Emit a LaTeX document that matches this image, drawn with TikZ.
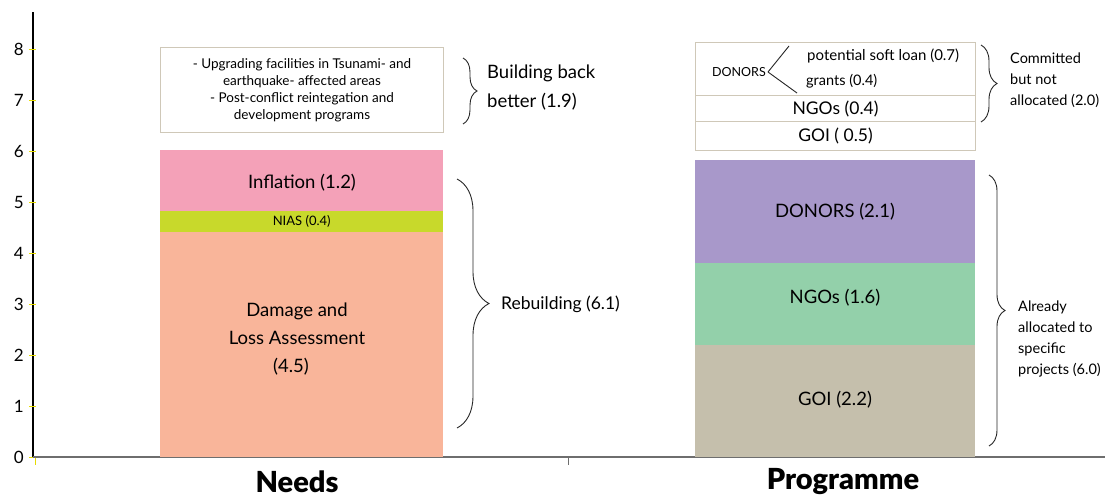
\documentclass[tikz,border=0pt]{standalone}
\usepackage{fontspec}
\setmainfont{Lato}
\newfontfamily\catfont{Lato Black}
\usetikzlibrary{decorations.pathreplacing}

\definecolor{damage}{HTML}{F9B59A}
\definecolor{nias}{HTML}{C8D92B}
\definecolor{inflation}{HTML}{F4A1B8}
\definecolor{donors}{HTML}{A898CA}
\definecolor{ngos}{HTML}{93D0AA}
\definecolor{goi}{HTML}{C5BFAC}
\definecolor{boxline}{HTML}{CFC8B8}
\definecolor{ticky}{HTML}{E6DC00}
\definecolor{baseaxis}{HTML}{6E6E6E}

\tikzset{
  seg/.style={draw=none, inner sep=0pt, anchor=north west},
  wbox/.style={draw=boxline, line width=1pt, fill=white, inner sep=0pt, anchor=north west},
  bartext/.style={font=\fontsize{18.5}{28}\selectfont, align=center, inner sep=0pt},
  progtext/.style={font=\fontsize{18.5}{22}\selectfont, inner sep=0pt},
  smalltext/.style={font=\fontsize{13.5}{17}\selectfont, align=center, inner sep=0pt},
  sidetext/.style={font=\fontsize{14.5}{21}\selectfont, align=left, anchor=west, inner sep=0pt},
  bigside/.style={font=\fontsize{18.5}{29}\selectfont, align=left, anchor=west, inner sep=0pt},
  ylab/.style={font=\fontsize{17}{20}\selectfont, anchor=east, inner sep=0pt},
  catlab/.style={font=\fontsize{29}{32}\catfont, inner sep=0pt},
  curly/.style={draw=black!85, line width=0.9pt, decorate,
    decoration={brace, amplitude=#1}},
}

\begin{document}
\begin{tikzpicture}[x=1pt, y=-1pt]
\useasboundingbox (0,0) rectangle (1112,498);

% ---------- axes ----------
\coordinate (ytop) at (33,12);
\coordinate (origin) at (33,457);
\coordinate (xend) at (1105,457);
\coordinate (midtick) at (568,457);
\coordinate (midtickend) at (568,465);
\draw[black, line width=1.2pt] (ytop) -- (origin);
\foreach \v in {0,...,8} {
  \draw[ticky, line width=0.9pt] (29,{457-51*\v}) -- (36,{457-51*\v});
  \node[ylab] at (24,{457-51*\v}) {\v};
}
\draw[ticky, line width=0.9pt] (35,457) -- (35,465);
\draw[baseaxis, line width=1.8pt] (origin) -- (xend);
\draw[baseaxis, line width=0.9pt] (midtick) -- (midtickend);

% ---------- Needs column ----------
\node[seg, fill=damage, minimum width=283pt, minimum height=225pt] (dla) at (160,232) {};
\node[seg, fill=nias, minimum width=283pt, minimum height=21pt] (nias) at (160,211) {};
\node[seg, fill=inflation, minimum width=283pt, minimum height=61pt] (infl) at (160,150) {};
\node[bartext] at (297,339) {Damage and\\Loss Assessment\\\hspace*{-12pt}(4.5)};
\node[font=\fontsize{13}{15}\selectfont, inner sep=0pt] at (nias.center) {NIAS (0.4)};
\node[bartext] at (302,183) {Inflation (1.2)};

\node[wbox, minimum width=283pt, minimum height=85pt] (bbb) at (160,47) {};
\node[smalltext] at (bbb.center) {- Upgrading facilities in Tsunami- and\\earthquake- affected areas\\- Post-conflict reintegation and\\development programs};

% ---------- Programme column ----------
\node[seg, fill=goi, minimum width=280pt, minimum height=112pt] (pgoi) at (695,345) {};
\node[seg, fill=ngos, minimum width=280pt, minimum height=82pt] (pngo) at (695,263) {};
\node[seg, fill=donors, minimum width=280pt, minimum height=103pt] (pdon) at (695,160) {};
\node[progtext] at (835,400) {GOI (2.2)};
\node[progtext] at (835,298) {NGOs (1.6)};
\node[progtext] at (835,212) {DONORS (2.1)};

\node[wbox, minimum width=280pt, minimum height=29pt] (cgoi) at (695,121) {};
\node[wbox, minimum width=280pt, minimum height=26pt] (cngo) at (695,95) {};
\node[wbox, minimum width=280pt, minimum height=53pt] (cdon) at (695,42) {};
\node[progtext, font=\fontsize{17.5}{20}\selectfont] at (cgoi.center) {GOI ( 0.5)};
\node[progtext, font=\fontsize{17.5}{20}\selectfont] at (cngo.center) {NGOs (0.4)};
\node[font=\fontsize{12.5}{14}\selectfont, inner sep=0pt, anchor=east] (dsmall) at (766,72) {DONORS};
\coordinate (loanend) at (789,46);
\coordinate (grantend) at (797,93);
\draw[black!85, line width=0.9pt] (dsmall.east) ++(2,0) coordinate (vtx) -- (loanend);
\draw[black!85, line width=0.9pt] (vtx) -- (grantend);
\node[font=\fontsize{15}{17}\selectfont, inner sep=0pt, anchor=west] at (807,56) {potential soft loan (0.7)};
\node[font=\fontsize{14.5}{17}\selectfont, inner sep=0pt, anchor=west] at (806,81) {grants (0.4)};

% ---------- braces and their notes ----------
\coordinate (b1a) at (463,58);   \coordinate (b1b) at (463,124);
\draw[curly=14pt] (b1a) -- (b1b);
\node[bigside] at (487,88) {Building back\\better (1.9)};

\coordinate (b2a) at (457,179);  \coordinate (b2b) at (457,428);
\draw[curly=32pt] (b2a) -- (b2b);
\node[font=\fontsize{17.5}{20}\selectfont, anchor=west, inner sep=0pt] at (501,304) {Rebuilding (6.1)};

\coordinate (b3a) at (981,45);   \coordinate (b3b) at (981,122);
\draw[curly=16pt] (b3a) -- (b3b);
\node[sidetext] at (1010,80) {Committed\\but not\\allocated (2.0)};

\coordinate (b4a) at (989,175);  \coordinate (b4b) at (989,446);
\draw[curly=16pt] (b4a) -- (b4b);
\node[sidetext] at (1018,339) {Already\\allocated to\\specific\\projects (6.0)};

% ---------- category labels ----------
\node[catlab] at (297,482) {Needs};
\node[catlab] at (843,482) {Programme};
\end{tikzpicture}
\end{document}
